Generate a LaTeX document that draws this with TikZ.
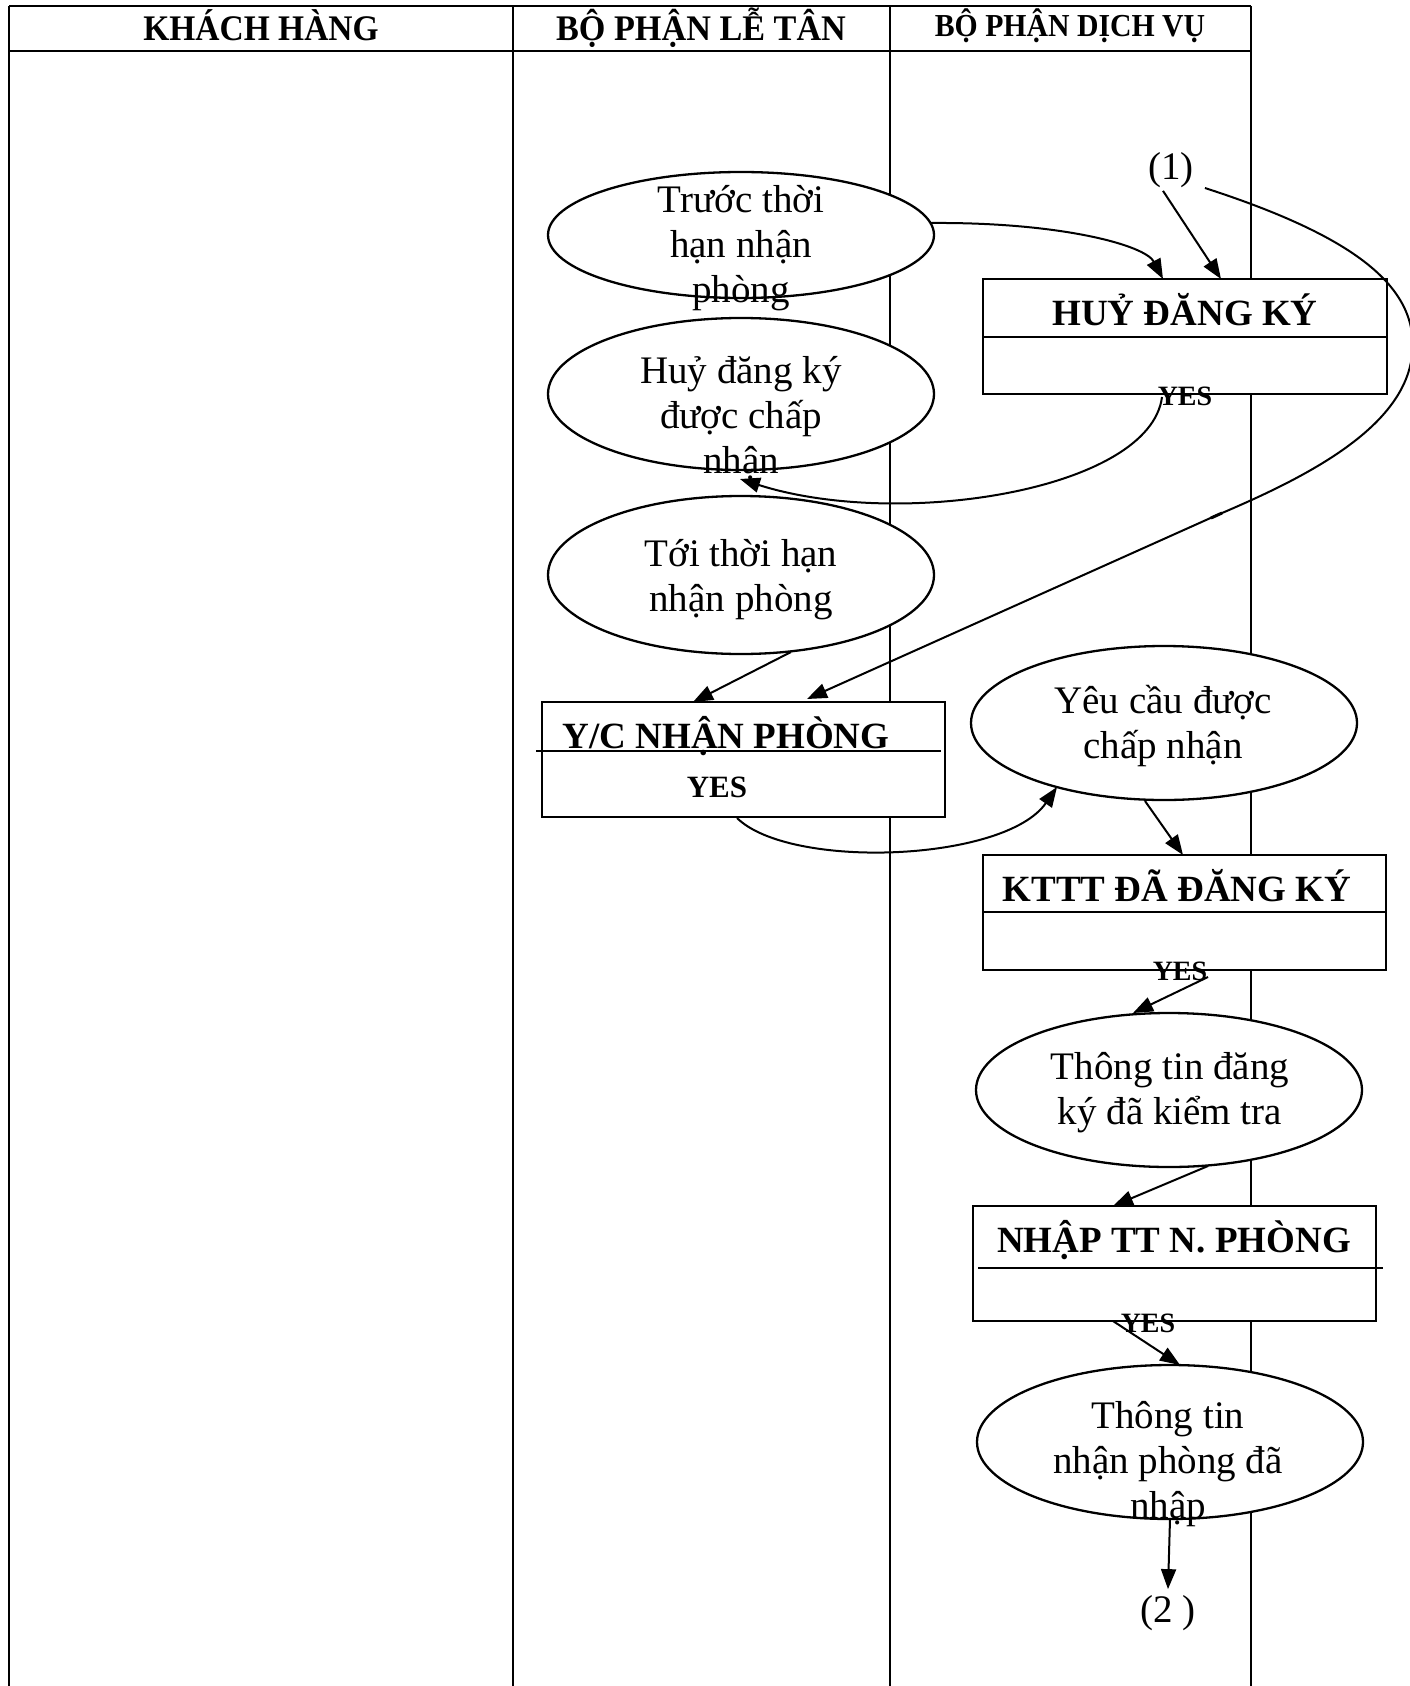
\documentclass[tikz,border=0pt]{standalone}
\usepackage{fontspec}
\usepackage{graphicx}
\setmainfont{Liberation Serif}
\usetikzlibrary{shapes.geometric,arrows.meta,calc}

\begin{document}
\begin{tikzpicture}[x=1pt,y=-1pt,
  laneline/.style={line width=2.8pt},
  ell/.style={draw,fill=white,ellipse,line width=2.3pt,inner sep=0pt,outer sep=0pt,
    minimum width=386pt,minimum height=154pt},
  bodytext/.style={align=center,inner sep=0pt,font=\fontsize{39}{45}\selectfont},
  boxn/.style={draw,fill=white,rectangle,line width=2.3pt,inner sep=0pt,outer sep=0pt,
    minimum width=403pt,minimum height=115pt},
  divline/.style={line width=2.3pt},
  boxtitle/.style={anchor=base,inner sep=0pt,font=\fontsize{37}{42}\selectfont\bfseries},
  yeslabel/.style={anchor=base,inner sep=0pt,font=\fontsize{28}{32}\selectfont\bfseries},
  hdtext/.style={anchor=base,inner sep=0pt,font=\fontsize{36}{40}\selectfont\bfseries},
  flowarrow/.style={line width=2pt,-{Triangle[length=20pt,width=15pt]}},
]
\useasboundingbox (0,0) rectangle (1410,1686);
\clip (0,0) rectangle (1410,1686);

% swimlane table
\draw[laneline] (9,6) -- (1251,6);
\draw[laneline] (9,51) -- (1251,51);
\draw[laneline] (9,6) -- (9,1686);
\draw[laneline] (513,6) -- (513,1686);
\draw[laneline] (890,6) -- (890,1686);
\draw[laneline] (1251,6) -- (1251,1686);

\node[hdtext] (h1) at (261,41) {\scalebox{0.93}[1]{KHÁCH HÀNG}};
\node[hdtext] (h2) at (701,41) {\scalebox{0.95}[1]{BỘ PHẬN LỄ TÂN}};
\node[hdtext,font=\fontsize{32}{36}\selectfont\bfseries] (h3) at (1070,37) {\scalebox{0.93}[1]{BỘ PHẬN DỊCH VỤ}};

% ellipses (states)
\node[ell,minimum height=126pt] (A) at (741,235) {};
\node[ell,minimum height=152pt] (B) at (741,394) {};
\node[ell,minimum height=158pt] (C) at (741,575) {};
\node[ell] (D) at (1164,723) {};
\node[ell] (E) at (1169,1090) {};
\node[ell] (F) at (1170,1442) {};

% process boxes
\node[boxn,minimum width=404pt] (huy) at (1185,336.5) {};
\draw[divline] ($(huy.north west)+(0,58)$) -- ($(huy.north east)+(0,58)$);
\node[boxn] (yc) at (743.5,759.5) {};
\draw[divline] ($(yc.north west)+(-6,49)$) -- ($(yc.north east)+(-4,49)$);
\node[boxn] (kt) at (1184.5,912.5) {};
\draw[divline] ($(kt.north west)+(0,57)$) -- ($(kt.north east)+(0,57)$);
\node[boxn] (np) at (1174.5,1263.5) {};
\draw[divline] ($(np.north west)+(5,62)$) -- ($(np.north east)+(7,62)$);

% texts
\node[bodytext] (At) at (741,248) {Trước thời\\hạn nhận\\phòng};
\node[bodytext] (Bt) at (741,418) {Huỷ đăng ký\\được chấp\\nhận};
\node[bodytext] (Ct) at (741,580) {Tới thời hạn\\nhận phòng};
\node[bodytext] (Dt) at (1163,726) {Yêu cầu được\\chấp nhận};
\node[bodytext] (Et) at (1170,1093) {Thông tin đăng\\ký đã kiểm tra};
\node[bodytext] (Ft) at (1168,1464) {Thông tin\\nhận phòng đã\\nhập};

\node[boxtitle] (huyt) at (1185,325) {HUỶ ĐĂNG KÝ};
\node[yeslabel] (huyy) at (1185,405) {YES};
\node[boxtitle] (yct) at (726,748) {Y/C NHẬN PHÒNG};
\node[yeslabel,font=\fontsize{31}{34}\selectfont\bfseries] (ycy) at (717,797) {YES};
\node[boxtitle] (ktt) at (1177,901) {KTTT ĐÃ ĐĂNG KÝ};
\node[yeslabel] (kty) at (1180,980) {YES};
\node[boxtitle] (npt) at (1174,1252) {NHẬP TT N. PHÒNG};
\node[yeslabel] (npy) at (1148,1332) {YES};

% connector labels
\node[bodytext] (one) at (1171,170) {(1)};
\node[bodytext] (two) at (1168,1613) {(2 )};

% connectors
\draw[flowarrow] ($(A.center)+(190,-12)$) .. controls (1060,222) and (1145,245) .. ($(huy.north west)+(180,0)$);
\draw[flowarrow] ($(one.south)+(-8,3)$) -- ($(huy.north west)+(238,0)$);
\draw[flowarrow] ($(one.east)+(11,18)$) .. controls (1350,235) and (1420,285) .. (1412,355)
  .. controls (1404,430) and (1300,480) .. (1215,516) -- ($(yc.north west)+(265,-3)$);
\draw[line width=3pt] (1211,518) -- (1222,513);
\draw[flowarrow] ($(huy.south west)+(179,3)$) .. controls (1150,490) and (900,530) .. ($(B.south)+(-1,9)$);
\draw[flowarrow] ($(C.south)+(50,-2)$) -- ($(yc.north west)+(151,0)$);
\draw[flowarrow] ($(yc.south west)+(195,1)$) .. controls (790,870) and (1005,862) .. ($(D.center)+(-107,64)$);
\draw[flowarrow] ($(D.south)+(-19,1)$) -- ($(kt.north west)+(200,0)$);
\draw[flowarrow] ($(kt.south west)+(225,7)$) -- ($(E.north)+(-36,0)$);
\draw[flowarrow] ($(E.south)+(39,-1)$) -- ($(np.north west)+(140,0)$);
\draw[flowarrow] ($(np.south west)+(140,0)$) -- ($(F.north)+(10,0)$);
\draw[flowarrow] (F.south) -- ($(two.north)+(0,-6)$);
\end{tikzpicture}
\end{document}
